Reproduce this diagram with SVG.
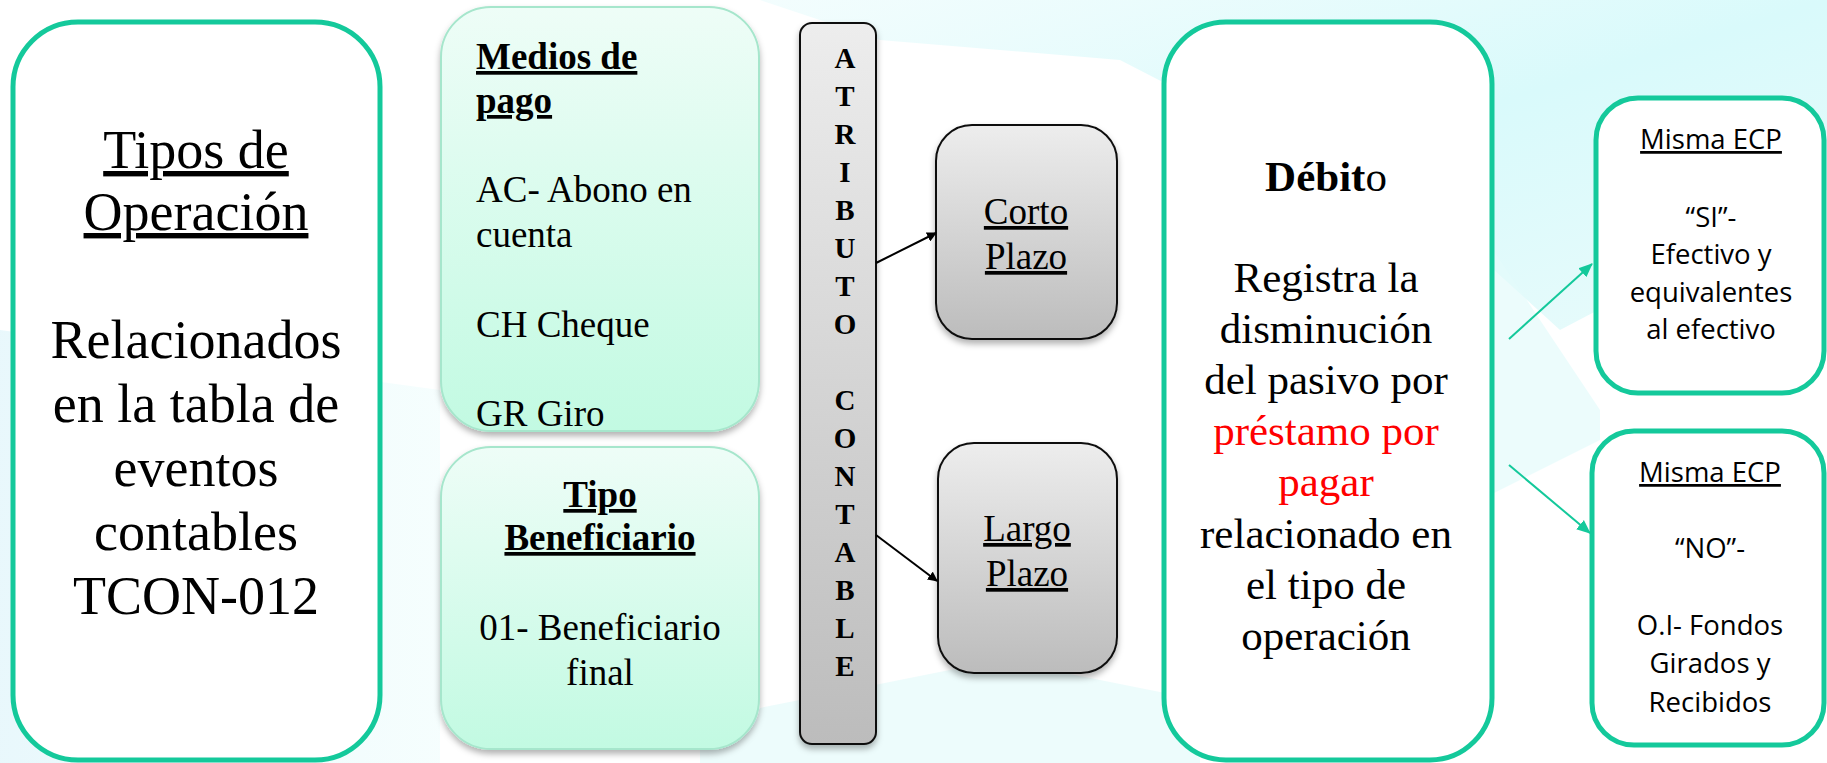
<svg xmlns="http://www.w3.org/2000/svg" width="1827" height="763" viewBox="0 0 1827 763">
<defs>
<linearGradient id="mint" x1="0" y1="0" x2="0" y2="1"><stop offset="0" stop-color="#eefdf7"/><stop offset="1" stop-color="#c2fae2"/></linearGradient>
<linearGradient id="gray" x1="0" y1="0" x2="0" y2="1"><stop offset="0" stop-color="#ededed"/><stop offset="1" stop-color="#bcbcbc"/></linearGradient>
<linearGradient id="bgTop" x1="0" y1="0" x2="1" y2="1"><stop offset="0" stop-color="#e6fbfc" stop-opacity="0.5"/><stop offset="0.5" stop-color="#d9fafb"/><stop offset="1" stop-color="#e9fbfb"/></linearGradient>
<linearGradient id="bgLeft" x1="0" y1="0" x2="1" y2="0"><stop offset="0" stop-color="#e3f6fb"/><stop offset="1" stop-color="#e1fbfb" stop-opacity="0.4"/></linearGradient>
<filter id="sh" x="-10%" y="-10%" width="120%" height="125%"><feDropShadow dx="0" dy="4" stdDeviation="3" flood-color="#000" flood-opacity="0.3"/></filter>
<marker id="ab" markerWidth="10" markerHeight="10" refX="9" refY="5" orient="auto" markerUnits="userSpaceOnUse" viewBox="0 0 10 10"><path d="M0,0 L10,5 L0,10 z" fill="#000"/></marker>
<marker id="ag" markerWidth="14" markerHeight="14" refX="13" refY="7" orient="auto" markerUnits="userSpaceOnUse" viewBox="0 0 14 14"><path d="M0,1 L14,7 L0,13 z" fill="#14c99b"/></marker>
<style>
.serif{font-family:"Liberation Serif","Times New Roman",serif;fill:#000}
.sans{font-family:"Open Sans","Liberation Sans",Arial,sans-serif;fill:#000;font-size:27.5px;text-anchor:middle}
.big{font-size:54px;text-anchor:middle}
.mid{font-size:43px;text-anchor:middle}
.med{font-size:37px}
.u{text-decoration:underline}
.b{font-weight:bold}
.red{fill:#ff0000}
.green{fill:#fff;stroke:#14c99b;stroke-width:5}
.mintbox{fill:url(#mint);stroke:#a6e6cc;stroke-width:2}
.graybox{fill:url(#gray);stroke:#111;stroke-width:2}
.atr{font-size:29px;font-weight:bold;text-anchor:middle}
</style>
</defs>
<rect width="1827" height="763" fill="#fff"/>
<g id="background">
<polygon points="760,0 1827,0 1827,190 1560,330 1450,230 1120,60 880,40" fill="url(#bgTop)"/>
<polygon points="0,330 440,390 440,763 0,763" fill="url(#bgLeft)" opacity="0.8"/>
<polygon points="1480,230 1600,410 1600,440 1480,500" fill="#e4fbfb" opacity="0.7"/>
<polygon points="700,720 1000,660 1200,700 1200,763 700,763" fill="#e6fbfb" opacity="0.7"/>
</g>
<g id="tipos">
<rect class="green" x="13" y="22" width="367" height="738" rx="65"/>
<text class="serif big u" x="196" y="168">Tipos de</text>
<text class="serif big u" x="196" y="230">Operación</text>
<text class="serif big" x="196" y="358">Relacionados</text>
<text class="serif big" x="196" y="422">en la tabla de</text>
<text class="serif big" x="196" y="486">eventos</text>
<text class="serif big" x="196" y="550">contables</text>
<text class="serif big" x="196" y="614">TCON-012</text>
</g>
<g id="medios">
<rect class="mintbox" x="441" y="7" width="318" height="424" rx="50" filter="url(#sh)"/>
<text class="serif med b u" x="476" y="69">Medios de</text>
<text class="serif med b u" x="476" y="113">pago</text>
<text class="serif med" x="476" y="202">AC- Abono en</text>
<text class="serif med" x="476" y="247">cuenta</text>
<text class="serif med" x="476" y="337">CH Cheque</text>
<text class="serif med" x="476" y="426">GR Giro</text>
</g>
<g id="beneficiario">
<rect class="mintbox" x="441" y="447" width="318" height="302" rx="50" filter="url(#sh)"/>
<text class="serif med b u" x="600" y="507" text-anchor="middle">Tipo</text>
<text class="serif med b u" x="600" y="550" text-anchor="middle">Beneficiario</text>
<text class="serif med" x="600" y="640" text-anchor="middle">01- Beneficiario</text>
<text class="serif med" x="600" y="685" text-anchor="middle">final</text>
</g>
<g id="atributo">
<rect class="graybox" x="800" y="23" width="76" height="721" rx="12" filter="url(#sh)"/>
<text class="serif atr" x="845" y="68">A</text>
<text class="serif atr" x="845" y="106">T</text>
<text class="serif atr" x="845" y="144">R</text>
<text class="serif atr" x="845" y="182">I</text>
<text class="serif atr" x="845" y="220">B</text>
<text class="serif atr" x="845" y="258">U</text>
<text class="serif atr" x="845" y="296">T</text>
<text class="serif atr" x="845" y="334">O</text>
<text class="serif atr" x="845" y="410">C</text>
<text class="serif atr" x="845" y="448">O</text>
<text class="serif atr" x="845" y="486">N</text>
<text class="serif atr" x="845" y="524">T</text>
<text class="serif atr" x="845" y="562">A</text>
<text class="serif atr" x="845" y="600">B</text>
<text class="serif atr" x="845" y="638">L</text>
<text class="serif atr" x="845" y="676">E</text>
</g>
<g id="corto">
<rect class="graybox" x="936" y="125" width="181" height="214" rx="36" filter="url(#sh)"/>
<text class="serif med u" x="1026" y="224" text-anchor="middle">Corto</text>
<text class="serif med u" x="1026" y="269" text-anchor="middle">Plazo</text>
</g>
<g id="largo">
<rect class="graybox" x="938" y="443" width="179" height="230" rx="36" filter="url(#sh)"/>
<text class="serif med u" x="1027" y="541" text-anchor="middle">Largo</text>
<text class="serif med u" x="1027" y="586" text-anchor="middle">Plazo</text>
</g>
<g id="debito">
<rect class="green" x="1164" y="22" width="328" height="738" rx="62"/>
<text class="serif mid" x="1326" y="191"><tspan class="b">Débit</tspan>o</text>
<text class="serif mid" x="1326" y="292">Registra la</text>
<text class="serif mid" x="1326" y="343">disminución</text>
<text class="serif mid" x="1326" y="394">del pasivo por</text>
<text class="serif mid red" x="1326" y="445">préstamo por</text>
<text class="serif mid red" x="1326" y="496">pagar</text>
<text class="serif mid" x="1326" y="548">relacionado en</text>
<text class="serif mid" x="1326" y="599">el tipo de</text>
<text class="serif mid" x="1326" y="650">operación</text>
</g>
<g id="misma-si">
<rect class="green" x="1596" y="98" width="228" height="295" rx="42"/>
<text class="sans u" x="1711" y="149">Misma ECP</text>
<text class="sans" x="1711" y="227">“SI”-</text>
<text class="sans" x="1711" y="264">Efectivo y</text>
<text class="sans" x="1711" y="302">equivalentes</text>
<text class="sans" x="1711" y="339">al efectivo</text>
</g>
<g id="misma-no">
<rect class="green" x="1592" y="431" width="232" height="314" rx="42"/>
<text class="sans u" x="1710" y="482">Misma ECP</text>
<text class="sans" x="1710" y="558">“NO”-</text>
<text class="sans" x="1710" y="635">O.I- Fondos</text>
<text class="sans" x="1710" y="673">Girados y</text>
<text class="sans" x="1710" y="712">Recibidos</text>
</g>
<g id="connectors">
<line x1="876" y1="263" x2="936" y2="233" stroke="#000" stroke-width="2" marker-end="url(#ab)"/>
<line x1="876" y1="535" x2="937" y2="581" stroke="#000" stroke-width="2" marker-end="url(#ab)"/>
<line x1="1509" y1="339" x2="1592" y2="264" stroke="#14c99b" stroke-width="2" marker-end="url(#ag)"/>
<line x1="1509" y1="465" x2="1590" y2="533" stroke="#14c99b" stroke-width="2" marker-end="url(#ag)"/>
</g>
</svg>
